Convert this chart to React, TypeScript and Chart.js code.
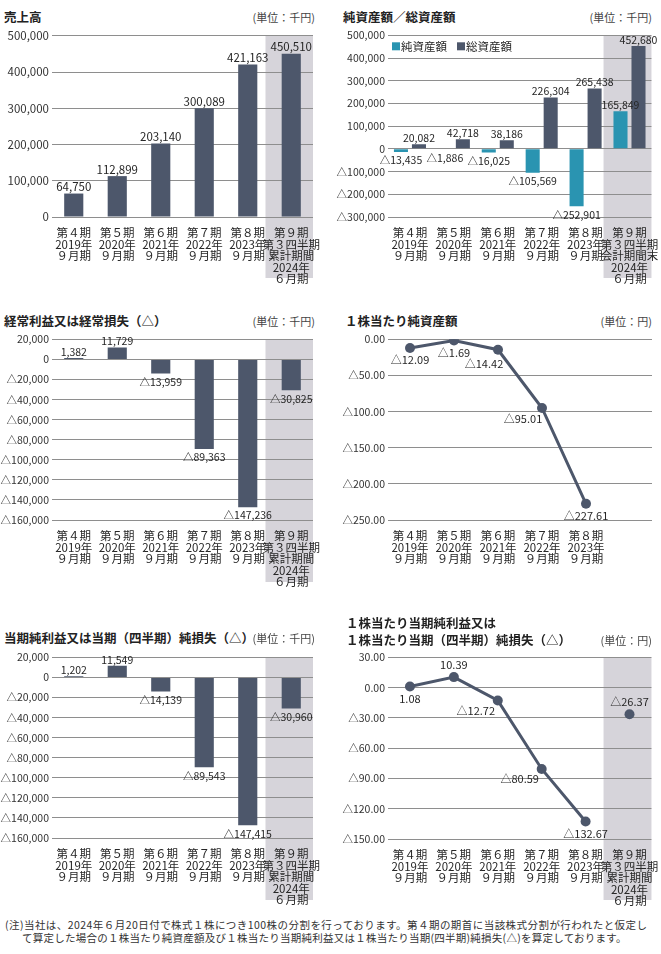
import React, { useEffect, useRef } from 'react';
import { Chart, registerables } from 'chart.js';

Chart.register(...registerables);

const FONT = "'Noto Sans CJK JP', 'Noto Sans', sans-serif";
const DARK = '#4d576b';
const CYAN = '#2a94b1';
const SHADE = '#d6d4da';
const GRID = '#8e8e8e';
const TEXT = '#262626';

// ---- categories ----
const periodLabels: string[][] = [
  ['第４期', '2019年', '９月期'],
  ['第５期', '2020年', '９月期'],
  ['第６期', '2021年', '９月期'],
  ['第７期', '2022年', '９月期'],
  ['第８期', '2023年', '９月期'],
];
const q3CumulativeLabel = ['第９期', '第３四半期', '累計期間', '2024年', '６月期'];
const q3EndLabel = ['第９期', '第３四半期', '会計期間末', '2024年', '６月期'];

// ---- series values ----
const salesValues = [64750, 112899, 203140, 300089, 421163, 450510];
const netAssetValues = [-13435, -1886, -16025, -105569, -252901, 165849];
const totalAssetValues = [20082, 42718, 38186, 226304, 265438, 452680];
const ordinaryIncomeValues = [1382, 11729, -13959, -89363, -147236, -30825];
const bpsValues = [-12.09, -1.69, -14.42, -95.01, -227.61];
const netIncomeValues = [1202, 11549, -14139, -89543, -147415, -30960];
const epsValues = [1.08, 10.39, -12.72, -80.59, -132.67, -26.37];

// ---- axis ranges ----
const salesAxis = { min: 0, max: 500000, step: 100000 };
const assetsAxis = { min: -300000, max: 500000, step: 100000 };
const incomeAxis = { min: -160000, max: 20000, step: 20000 };
const bpsAxis = { min: -250, max: 0, step: 50 };
const epsAxis = { min: -150, max: 30, step: 30 };

// label placement styles for line charts
const ANCHOR: Record<string, [number, number]> = {
  below: [0, 12],
  above: [0, -12],
  belowLeftNear: [-14, 14],
  belowLeft: [-19, 11],
  left: [-22, 10],
};
const bpsAnchors = ['below', 'below', 'belowLeftNear', 'belowLeft', 'below'];
const epsAnchors = ['below', 'above', 'left', 'left', 'below', 'above'];

const fmt = (v: number, d = 0) =>
  (v < 0 ? '△' : '') +
  Math.abs(v).toLocaleString('en-US', { minimumFractionDigits: d, maximumFractionDigits: d });

type Box = { x: number; y: number; w: number; h: number };
type Plot = { left: number; top: number; right: number; bottom: number };

function shadePlugin(enabled: boolean, bottomInset: number, extend: number) {
  return {
    id: 'lastShade',
    beforeDraw(chart: any) {
      if (!enabled) return;
      const { ctx, chartArea, scales } = chart;
      const n = scales.x.ticks.length;
      const cw = (chartArea.right - chartArea.left) / n;
      const left = chartArea.right - cw - extend;
      ctx.save();
      ctx.fillStyle = SHADE;
      ctx.fillRect(left, chartArea.top, chartArea.right - left, chart.height - bottomInset - chartArea.top);
      ctx.restore();
    },
  };
}

function legendPlugin() {
  return {
    id: 'insideLegend',
    afterDraw(chart: any) {
      const { ctx, chartArea } = chart;
      ctx.save();
      ctx.font = `11.5px ${FONT}`;
      ctx.textAlign = 'left';
      ctx.textBaseline = 'middle';
      let x = chartArea.left + 4;
      const y = chartArea.top + 11;
      chart.data.datasets.forEach((ds: any) => {
        ctx.fillStyle = ds.backgroundColor;
        ctx.fillRect(x, y - 4, 8, 8);
        ctx.fillStyle = TEXT;
        ctx.fillText(ds.label, x + 9, y);
        x += 9 + ctx.measureText(ds.label).width + 10;
      });
      ctx.restore();
    },
  };
}

function labelPlugin(decimals: number, size: number, anchors?: string[]) {
  return {
    id: 'valueLabels',
    afterDatasetsDraw(chart: any) {
      const { ctx } = chart;
      ctx.save();
      ctx.font = `${size}px ${FONT}`;
      ctx.fillStyle = TEXT;
      ctx.textAlign = 'center';
      chart.data.datasets.forEach((ds: any, di: number) => {
        const meta = chart.getDatasetMeta(di);
        meta.data.forEach((el: any, i: number) => {
          const v = ds.data[i];
          if (v == null) return;
          const text = fmt(v, decimals);
          if (meta.type === 'bar') {
            if (v >= 0) {
              ctx.textBaseline = 'bottom';
              ctx.fillText(text, el.x, el.y - 1);
            } else {
              ctx.textBaseline = 'top';
              ctx.fillText(text, el.x, el.y + 3);
            }
          } else {
            const a = ANCHOR[(anchors && anchors[i]) || 'below'];
            ctx.textBaseline = 'middle';
            ctx.fillText(text, el.x + a[0], el.y + a[1]);
          }
        });
      });
      ctx.restore();
    },
  };
}

function scales(
  box: Box,
  plot: Plot,
  axis: { min: number; max: number; step: number },
  decimals: number,
  tickSize: number
) {
  const yWidth = plot.left - box.x;
  const xHeight = box.y + box.h - plot.bottom;
  return {
    x: {
      type: 'category',
      offset: true,
      grid: { display: false },
      border: { display: false },
      ticks: {
        autoSkip: false,
        maxRotation: 0,
        minRotation: 0,
        padding: 2,
        color: TEXT,
        font: { family: FONT, size: 11.5, lineHeight: 1.0 },
      },
      afterFit: (s: any) => {
        s.height = xHeight;
      },
    },
    y: {
      min: axis.min,
      max: axis.max,
      grid: { color: GRID, lineWidth: 1, drawTicks: false },
      border: { display: false },
      ticks: {
        stepSize: axis.step,
        padding: 3,
        color: '#333',
        font: { family: FONT, size: tickSize },
        callback: (v: any) => fmt(Number(v), decimals),
      },
      afterFit: (s: any) => {
        s.width = yWidth;
      },
    },
  };
}

function layoutPadding(box: Box, plot: Plot) {
  return { top: plot.top - box.y, right: box.x + box.w - plot.right, left: 0, bottom: 0 };
}

type Spec = {
  box: Box;
  plot: Plot;
  build: (box: Box, plot: Plot) => any;
};

function ChartCanvas({ spec }: { spec: Spec }) {
  const ref = useRef<HTMLCanvasElement>(null);
  useEffect(() => {
    const chart = new Chart(ref.current as HTMLCanvasElement, spec.build(spec.box, spec.plot));
    return () => chart.destroy();
  }, []);
  const { box } = spec;
  return (
    <canvas
      ref={ref}
      width={box.w}
      height={box.h}
      style={{ position: 'absolute', left: box.x, top: box.y, width: box.w, height: box.h }}
    />
  );
}

function barChart(
  labels: any[],
  datasets: any[],
  axis: any,
  shadeInset: number,
  tickSize: number,
  labelSize: number,
  legend = false
) {
  return (box: Box, plot: Plot) => ({
    type: 'bar',
    data: { labels, datasets },
    options: {
      animation: false,
      responsive: false,
      devicePixelRatio: 1,
      layout: { padding: layoutPadding(box, plot) },
      scales: scales(box, plot, axis, 0, tickSize),
      plugins: {
        tooltip: { enabled: false },
        legend: { display: false },
      },
    },
    plugins: [
      shadePlugin(true, shadeInset, 4),
      labelPlugin(0, labelSize),
      ...(legend ? [legendPlugin()] : []),
    ],
  });
}

function lineChart(
  labels: any[],
  values: number[],
  axis: any,
  anchors: string[],
  shade: boolean,
  shadeInset: number,
  breakAt: number,
  tickSize: number
) {
  return (box: Box, plot: Plot) => ({
    type: 'line',
    data: {
      labels,
      datasets: [
        {
          data: values,
          borderColor: DARK,
          backgroundColor: DARK,
          borderWidth: 3,
          pointRadius: 5,
          pointBackgroundColor: DARK,
          pointBorderWidth: 0,
          tension: 0,
          segment: {
            borderColor: (c: any) => (c.p1DataIndex === breakAt ? 'rgba(0,0,0,0)' : DARK),
          },
        },
      ],
    },
    options: {
      animation: false,
      responsive: false,
      devicePixelRatio: 1,
      layout: { padding: layoutPadding(box, plot) },
      scales: scales(box, plot, axis, 2, tickSize),
      plugins: { tooltip: { enabled: false }, legend: { display: false } },
    },
    plugins: [shadePlugin(shade, shadeInset, 4), labelPlugin(2, 11, anchors)],
  });
}

const specs: Spec[] = [
  {
    box: { x: 0, y: 26, w: 330, h: 264 },
    plot: { left: 52, top: 35, right: 313, bottom: 217 },
    build: barChart(
      [...periodLabels, q3CumulativeLabel],
      [{ label: '売上高', data: salesValues, backgroundColor: DARK, categoryPercentage: 1, barPercentage: 0.44 }],
      salesAxis,
      12,
      11.5,
      11.5
    ),
  },
  {
    box: { x: 330, y: 26, w: 331, h: 264 },
    plot: { left: 388, top: 35, right: 652, bottom: 217 },
    build: barChart(
      [...periodLabels, q3EndLabel],
      [
        { label: '純資産額', data: netAssetValues, backgroundColor: CYAN, categoryPercentage: 0.82, barPercentage: 0.78 },
        { label: '総資産額', data: totalAssetValues, backgroundColor: DARK, categoryPercentage: 0.82, barPercentage: 0.78 },
      ],
      assetsAxis,
      12,
      10.5,
      10.5,
      true
    ),
  },
  {
    box: { x: 0, y: 330, w: 330, h: 262 },
    plot: { left: 52, top: 339, right: 313, bottom: 520 },
    build: barChart(
      [...periodLabels, q3CumulativeLabel],
      [{ label: '経常利益', data: ordinaryIncomeValues, backgroundColor: DARK, categoryPercentage: 1, barPercentage: 0.44 }],
      incomeAxis,
      10,
      10.5,
      10.5
    ),
  },
  {
    box: { x: 330, y: 330, w: 331, h: 262 },
    plot: { left: 388, top: 339, right: 652, bottom: 520 },
    build: lineChart([...periodLabels, ''], bpsValues, bpsAxis, bpsAnchors, false, 10, -1, 10.5),
  },
  {
    box: { x: 0, y: 648, w: 330, h: 262 },
    plot: { left: 52, top: 657, right: 313, bottom: 838 },
    build: barChart(
      [...periodLabels, q3CumulativeLabel],
      [{ label: '当期純利益', data: netIncomeValues, backgroundColor: DARK, categoryPercentage: 1, barPercentage: 0.44 }],
      incomeAxis,
      10,
      10.5,
      10.5
    ),
  },
  {
    box: { x: 330, y: 648, w: 331, h: 262 },
    plot: { left: 388, top: 657, right: 652, bottom: 839 },
    build: lineChart([...periodLabels, q3CumulativeLabel], epsValues, epsAxis, epsAnchors, true, 10, 5, 10.5),
  },
];

const titleStyle = (left: number, cy: number): React.CSSProperties => ({
  position: 'absolute',
  left,
  top: cy - 8,
  font: `bold 12.5px ${FONT}`,
  lineHeight: '16px',
  color: '#222',
  whiteSpace: 'nowrap',
});
const unitStyle = (right: number, cy: number): React.CSSProperties => ({
  position: 'absolute',
  right,
  top: cy - 8,
  font: `11px ${FONT}`,
  lineHeight: '16px',
  color: '#444',
  whiteSpace: 'nowrap',
});

export default function App() {
  return (
    <div
      style={{
        position: 'absolute',
        left: 0,
        top: 0,
        width: 661,
        height: 954,
        background: '#fff',
        overflow: 'hidden',
        fontFamily: FONT,
      }}
    >
      {specs.map((s, i) => (
        <ChartCanvas key={i} spec={s} />
      ))}
      <div style={titleStyle(4, 17)}>売上高</div>
      <div style={unitStyle(346, 17)}>(単位：千円)</div>
      <div style={titleStyle(343, 17)}>純資産額／総資産額</div>
      <div style={unitStyle(9, 17)}>(単位：千円)</div>
      <div style={titleStyle(4, 321)}>経常利益又は経常損失（△）</div>
      <div style={unitStyle(346, 321)}>(単位：千円)</div>
      <div style={titleStyle(345, 321)}>１株当たり純資産額</div>
      <div style={unitStyle(9, 321)}>(単位：円)</div>
      <div style={titleStyle(4, 638)}>当期純利益又は当期（四半期）純損失（△）</div>
      <div style={unitStyle(346, 638)}>(単位：千円)</div>
      <div style={titleStyle(346, 623)}>１株当たり当期純利益又は</div>
      <div style={titleStyle(346, 640)}>１株当たり当期（四半期）純損失（△）</div>
      <div style={unitStyle(9, 640)}>(単位：円)</div>
      <div
        style={{
          position: 'absolute',
          left: 5,
          top: 918,
          font: `10.5px ${FONT}`,
          lineHeight: '14px',
          letterSpacing: '0.45px',
          color: '#333',
          whiteSpace: 'nowrap',
        }}
      >
        (注)当社は、2024年６月20日付で株式１株につき100株の分割を行っております。第４期の期首に当該株式分割が行われたと仮定し
      </div>
      <div
        style={{
          position: 'absolute',
          left: 22,
          top: 931,
          font: `10.5px ${FONT}`,
          lineHeight: '14px',
          letterSpacing: '0.25px',
          color: '#333',
          whiteSpace: 'nowrap',
        }}
      >
        て算定した場合の１株当たり純資産額及び１株当たり当期純利益又は１株当たり当期(四半期)純損失(△)を算定しております。
      </div>
    </div>
  );
}
